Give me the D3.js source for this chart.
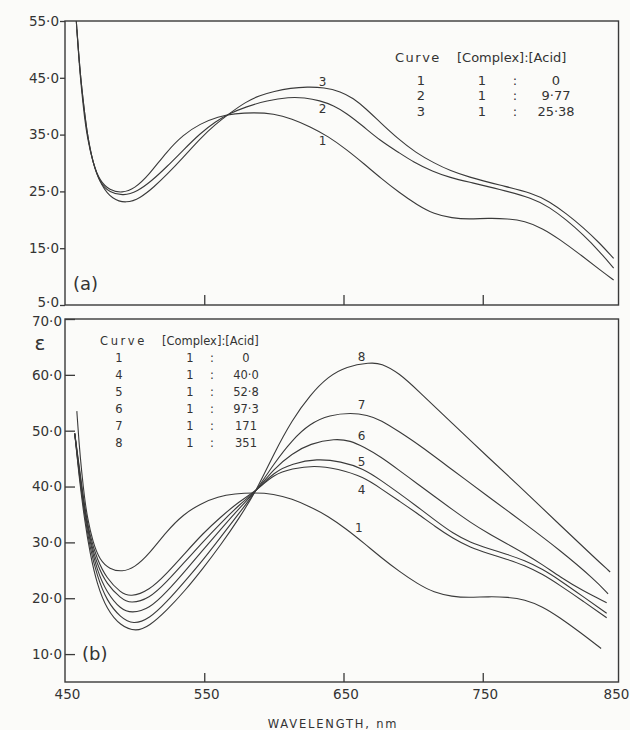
<!DOCTYPE html>
<html>
<head>
<meta charset="utf-8">
<script src="https://d3js.org/d3.v7.min.js"></script>
<style>
	body { margin: 0; background: #fbfbf9; }
	svg { display: block; }
	text { font-family: "DejaVu Sans", sans-serif; fill: #333; }
</style>
</head>
<body>
<div id="plot"></div>
<script>
// axis ticks
var wavelengthTicks = [450, 550, 650, 750, 850];
var epsTicksA = [5, 15, 25, 35, 45, 55];
var epsTicksB = [10, 20, 30, 40, 50, 60, 70];

// [wavelength nm, epsilon]
var curve1 = [[458.5,53.5],[460,48],[462,42.5],[464,38],[466,34.5],[470,30],[475,26.8],[482,25.2],[491,24.7],[500,25.5],[510,27.8],[523,32.0],[535,35.0],[547,36.9],[560,38.2],[572,38.7],[585,38.9],[600,38.7],[613,37.8],[626,36.4],[639,34.7],[652,32.4],[665,29.8],[677,27.3],[690,24.8],[703,22.6],[715,21.0],[728,20.3],[740,20.1],[754,20.3],[768,20.2],[780,19.8],[793,18.5],[805,16.6],[820,13.9],[835,11.0],[844,9.4]];
var curve2 = [[457.5,57],[459,52],[461,45.5],[463.5,40],[466,35],[470,30],[475,26.5],[482,24.8],[492,24.2],[502,25.0],[512,26.8],[523,29.3],[535,32.3],[547,35.2],[558,37.3],[568,38.7],[580,39.9],[595,41.0],[611,41.6],[622,41.5],[633,41.0],[643,40.1],[652,38.8],[664,36.5],[676,34.0],[690,31.8],[700,30.2],[714,28.5],[727,27.4],[739,26.7],[762,25.4],[786,23.8],[798,22.2],[810,20.0],[822,17.4],[834,14.4],[844,11.5]];
var curve3 = [[457.5,57],[459,52],[461,45.5],[463.5,40],[466,35],[470,30],[476,26],[484,23.6],[494,22.9],[504,23.8],[514,25.8],[523,27.9],[535,31.0],[547,34.3],[558,36.8],[568,38.7],[580,40.8],[590,41.9],[600,42.6],[612,43.2],[624,43.4],[636,43.3],[648,42.6],[657,41.4],[666,39.6],[677,37.0],[689,34.3],[702,31.8],[715,30.0],[727,28.6],[739,27.6],[762,26.1],[786,24.7],[798,23.2],[810,21.1],[822,18.7],[834,15.9],[844,13.2]];
var curve4 = [[457,49.5],[460,44],[464,36.5],[468,31],[473,27],[480,23.5],[490,21],[497,20.2],[510.5,21.4],[523,24.4],[536,28.0],[549,31.6],[562,34.6],[575,37.3],[587.5,39.3],[600,42.2],[613,43.2],[628.6,43.8],[646,43.2],[664.5,41.7],[677,39.6],[690,37.4],[703,35.2],[716,32.8],[728.6,30.7],[741,29.1],[754,28.0],[767,27.0],[780,25.9],[793,24.3],[805.5,22.3],[822,19.5],[839,16.5]];
var curve5 = [[457,49.5],[460,43.5],[464,36],[468,30.5],[473,26],[480,22.5],[490,20],[497,19.0],[510.5,19.9],[523,22.9],[536,26.5],[549,30.1],[562,33.5],[575,36.7],[587.5,39.3],[600,42.6],[613,44.1],[631,45.0],[648,44.5],[664.5,43.2],[677,41.1],[690,38.8],[703,36.4],[716,33.9],[728.6,31.6],[741,30.0],[754,28.9],[767,27.9],[780,26.8],[793,25.2],[805.5,23.2],[822,20.3],[839,17.3]];
var curve6 = [[457,49.5],[460,43],[464,35.5],[468,30],[473,25],[480,21],[490,18],[498,17.3],[510.5,18.1],[523,21.1],[536,24.8],[549,28.6],[562,32.4],[575,36.1],[587.5,39.3],[600,43.2],[613,45.9],[626,47.7],[644,48.6],[655,48.2],[664.5,47.1],[677,45.3],[690,42.9],[703,40.5],[716,38.1],[728.6,35.8],[741,33.6],[754,31.6],[767,29.8],[780,28.0],[793,26.0],[805.5,23.8],[822,21.3],[839,19.2]];
var curve7 = [[457,49.5],[460,42.5],[464,35],[468,29],[473,24],[480,19.5],[490,16.5],[499,15.3],[510.5,16.3],[523,19.3],[536,23.0],[549,26.8],[562,31.0],[575,35.2],[587.5,39.3],[600,44.1],[613,48.3],[626,51.3],[640,52.8],[655.5,53.2],[667,52.8],[677,51.9],[690,49.8],[703,47.7],[728.6,42.9],[754,38.2],[780,33.4],[805.5,28.6],[831,23.2],[840,20.8]];
var curve8 = [[457,49.5],[460,42],[464,34],[468,28],[473,22.5],[480,18],[490,15],[501,14.0],[510.5,15.0],[523,17.8],[536,21.3],[549,25.3],[562,29.6],[575,34.3],[587.5,39.3],[600,45.9],[613,51.9],[626,56.4],[639,59.7],[652,61.5],[669,62.2],[677,62.1],[690,60.3],[703,57.3],[728.6,51.2],[754,45.2],[780,39.2],[805.5,33.1],[831,27.1],[841.5,24.7]];

// legend rows: curve, complex, acid
var legendA = [["1","1","0"],["2","1","9·77"],["3","1","25·38"]];
var legendB = [["1","1","0"],["4","1","40·0"],["5","1","52·8"],["6","1","97·3"],["7","1","171"],["8","1","351"]];

// curve number tags, in chart units
var tagsA = [["3",635,44.3],["2",635,39.5],["1",635,33.9]];
var tagsB = [["8",663,63.2],["7",663,54.6],["6",663,49.0],["5",663,44.4],["4",663,39.4],["1",661,32.7]];

var ink = "#3a3a3a";

var svg = d3.select("#plot").append("svg")
	.attr("width", 630)
	.attr("height", 730);

var x = d3.scaleLinear().domain([450, 850]).range([65, 622]);
var yA = d3.scaleLinear().domain([5, 55]).range([305, 21]);
var yB = d3.scaleLinear().domain([5, 70]).range([682, 319]);
var xEnd = 847.5;

var fmt = function(v) { return d3.format(".1f")(v).replace(".", "·"); };

function panel(y, curves, id) {
	var g = svg.append("g");
	var top = y.range()[1], bot = y.range()[0];

	g.append("defs").append("clipPath")
		.attr("id", id)
	  .append("rect")
		.attr("x", x(450)).attr("y", top)
		.attr("width", x(xEnd) - x(450)).attr("height", bot - top);

	var line = d3.line()
		.x(function(d) { return x(d[0]); })
		.y(function(d) { return y(d[1]); })
		.curve(d3.curveBasis);

	g.append("g")
		.attr("clip-path", "url(#" + id + ")")
	  .selectAll("path")
		.data(curves)
	  .enter().append("path")
		.attr("d", line)
		.attr("fill", "none")
		.attr("stroke", ink)
		.attr("stroke-width", 1.1);

	g.append("rect")
		.attr("x", x(450)).attr("y", top)
		.attr("width", x(xEnd) - x(450)).attr("height", bot - top)
		.attr("fill", "none")
		.attr("stroke", ink)
		.attr("stroke-width", 1.4);

	return g;
}

// (a)
var gA = panel(yA, [curve1, curve2, curve3], "clipA");

var axA = gA.append("g")
	.attr("transform", "translate(" + x(450) + ",0)")
	.call(d3.axisLeft(yA).tickValues(epsTicksA).tickFormat(fmt).tickSize(5).tickPadding(1));
axA.select(".domain").remove();
axA.selectAll(".tick text").filter(function(d) { return d == 5; }).attr("dy", "0.1em");

var axAx = gA.append("g")
	.attr("transform", "translate(0," + yA(5) + ")")
	.call(d3.axisBottom(x).tickValues([550, 650, 750]).tickSize(-10).tickFormat(""));
axAx.select(".domain").remove();

// (b)
var gB = panel(yB, [curve1.filter(function(d) { return d[0] <= 836; }), curve4, curve5, curve6, curve7, curve8], "clipB");

var axB = gB.append("g")
	.attr("transform", "translate(" + x(450) + ",0)")
	.call(d3.axisLeft(yB).tickValues(epsTicksB).tickFormat(fmt).tickSizeInner(-10).tickSizeOuter(0).tickPadding(3));
axB.select(".domain").remove();
axB.selectAll(".tick text").filter(function(d) { return d == 70; }).attr("dy", "0.45em");

var axBx = gB.append("g")
	.attr("transform", "translate(0," + yB(5) + ")")
	.call(d3.axisBottom(x).tickValues(wavelengthTicks).tickSizeInner(-9).tickSizeOuter(0).tickPadding(7));
axBx.select(".domain").remove();
axBx.selectAll(".tick line").filter(function(d) { return d == 450 || d == 850; }).remove();
axBx.selectAll(".tick text").attr("dx", function(d) { return d == 850 ? -6 : 2; });

svg.selectAll(".tick line").attr("stroke", ink).attr("stroke-width", 1.3);
svg.selectAll(".tick text")
	.attr("fill", "#333")
	.style("font-family", "DejaVu Sans, sans-serif")
	.style("font-size", "13.5px");

// panel tags and titles
svg.append("text").attr("x", 73).attr("y", 290).style("font-size", "18px").text("(a)");
svg.append("text").attr("x", 82).attr("y", 660).style("font-size", "18px").text("(b)");
svg.append("text").attr("x", 40).attr("y", 350).attr("text-anchor", "middle").style("font-size", "20px").text("ε");
svg.append("text")
	.attr("x", 333).attr("y", 728)
	.attr("text-anchor", "middle")
	.style("font-size", "11.5px")
	.style("letter-spacing", "1.8px")
	.text("WAVELENGTH, nm");

// curve number tags
function tags(list, y) {
	svg.append("g").selectAll("text")
		.data(list)
	  .enter().append("text")
		.attr("x", function(d) { return x(d[1]); })
		.attr("y", function(d) { return y(d[2]); })
		.attr("dy", "0.35em")
		.attr("text-anchor", "middle")
		.style("font-size", "12px")
		.text(function(d) { return d[0]; });
}
tags(tagsA, yA);
tags(tagsB, yB);

// legends
function legend(rows, o) {
	var g = svg.append("g").style("font-size", o.size + "px");
	g.append("text").attr("x", o.cx).attr("y", o.y0).style("letter-spacing", o.ls + "px").text("Curve");
	g.append("text").attr("x", o.hx).attr("y", o.y0).text("[Complex]:[Acid]");
	var r = g.selectAll(".row")
		.data(rows)
	  .enter().append("g")
		.attr("transform", function(d, i) { return "translate(0," + (o.y1 + i * o.dy) + ")"; });
	r.append("text").attr("x", o.c1).attr("text-anchor", "middle").text(function(d) { return d[0]; });
	r.append("text").attr("x", o.c2).attr("text-anchor", "middle").text(function(d) { return d[1]; });
	r.append("text").attr("x", o.c3).attr("text-anchor", "middle").text(":");
	r.append("text").attr("x", o.c4).attr("text-anchor", "middle").text(function(d) { return d[2]; });
}
legend(legendA, { size: 13, ls: 1.5, cx: 395, hx: 457, y0: 62, y1: 84.5, dy: 15.5, c1: 421, c2: 482, c3: 515, c4: 556 });
legend(legendB, { size: 11.5, ls: 2.6, cx: 100, hx: 162, y0: 345, y1: 362, dy: 17, c1: 119, c2: 190, c3: 212, c4: 246 });
</script>
</body>
</html>
